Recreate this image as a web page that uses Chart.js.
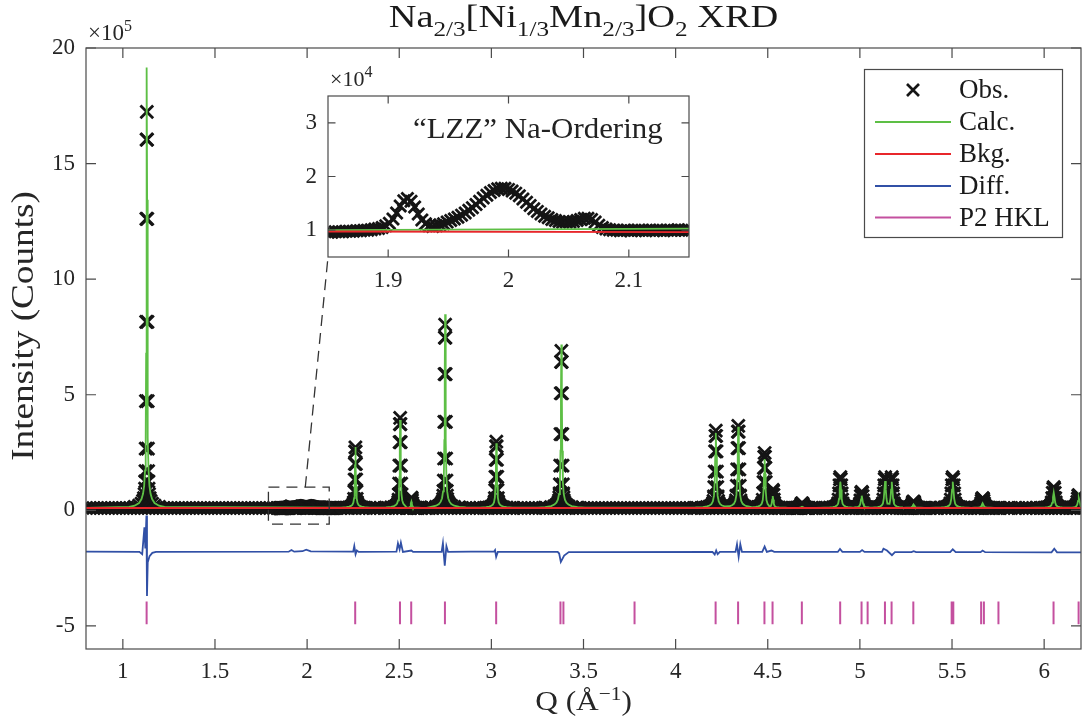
<!DOCTYPE html>
<html><head><meta charset="utf-8">
<script src="https://cdn.jsdelivr.net/npm/chart.js@4.4.1/dist/chart.umd.min.js"></script>
<style>
html,body{margin:0;padding:0;background:#fff;}
#wrap{position:relative;width:1083px;height:726px;overflow:hidden;}
#main{position:absolute;left:0;top:0;}
#inset{position:absolute;left:270px;top:60px;}
</style></head><body>
<div id="wrap"><canvas id="main" width="1083" height="726"></canvas><canvas id="inset" width="430" height="240"></canvas></div>
<script>
// ---------------- data (main plot in units of 1e5 counts) ----------------
const xTicks = [1, 1.5, 2, 2.5, 3, 3.5, 4, 4.5, 5, 5.5, 6];
const yTicks = [-5, 0, 5, 10, 15, 20];

const obsBaseLevel = 0.10;     // observed background level
const obsBandStep = 0.02;      // Q sampling used for the flat parts of the pattern
const calcBaseLevel = 0.105;
const bkgQ = [0.8, 6.2];
const bkgY = [0.097, 0.095];

// reflections: position, calculated height, observed height (above background), sample step
const peakQ    = [1.130, 2.262, 2.505, 2.566, 2.749, 3.027, 3.380, 4.218, 4.340, 4.483, 4.527, 4.686, 4.894, 5.010, 5.137, 5.173, 5.291, 5.504, 5.666, 6.052, 6.188];
const peakCalc = [19.05, 2.63, 3.80, 0.27, 8.38, 2.80, 7.07, 3.24, 3.51, 2.11, 0.51, 0.05, 1.13, 0.53, 1.16, 1.13, 0.15, 1.13, 0.20, 0.66, 0.43];
const peakObs  = [17.14, 2.62, 3.90, 0.45, 7.93, 2.87, 6.80, 3.35, 3.55, 2.38, 0.78, 0.20, 1.34, 0.70, 1.34, 1.34, 0.28, 1.34, 0.43, 0.90, 0.56];
const peakStep = [0.0012, 0.0014, 0.0014, 0.0015, 0.0014, 0.0016, 0.0016, 0.0020, 0.0020, 0.0020, 0.0020, 0.0022, 0.0024, 0.0024, 0.0024, 0.0024, 0.0024, 0.0026, 0.0026, 0.0027, 0.0027];

const obsShapeK   = [-55, -35, -24, -17, -13, -10, -8, -7, -6, -5, -4, -3, -2, -1, 0, 1, 2, 3, 4, 5, 6, 7, 8, 10, 13, 17, 24, 35, 55];
const obsShapeRel = [0.003, 0.006, 0.011, 0.018, 0.025, 0.035, 0.049, 0.067, 0.093, 0.15, 0.27, 0.47, 0.73, 0.93, 1, 0.93, 0.73, 0.47, 0.27, 0.15, 0.093, 0.067, 0.049, 0.035, 0.025, 0.018, 0.011, 0.006, 0.003];
const calcShapeK   = [-80, -55, -35, -24, -17, -12, -8, -5, -3, -1.5, 0, 1.5, 3, 5, 8, 12, 17, 24, 35, 55, 80];
const calcShapeRel = [0.002, 0.005, 0.011, 0.02, 0.032, 0.05, 0.085, 0.16, 0.35, 0.7, 1, 0.7, 0.35, 0.16, 0.085, 0.05, 0.032, 0.02, 0.011, 0.005, 0.002];

// difference curve (offset)
const diffQ = [0.80, 1.09, 1.105, 1.117, 1.122, 1.128, 1.131, 1.135, 1.145, 1.16, 1.18, 1.90, 1.915, 1.93, 1.975, 1.995, 2.02, 2.25, 2.256, 2.263, 2.27, 2.28, 2.485, 2.493, 2.502, 2.509, 2.52, 2.566, 2.575, 2.73, 2.737, 2.747, 2.756, 2.765, 3.015, 3.02, 3.026, 3.035, 3.36, 3.368, 3.377, 3.395, 3.42, 4.20, 4.212, 4.22, 4.228, 4.24, 4.325, 4.333, 4.342, 4.351, 4.36, 4.47, 4.483, 4.495, 4.52, 4.535, 4.88, 4.892, 4.905, 5.0, 5.012, 5.025, 5.12, 5.128, 5.147, 5.174, 5.19, 5.28, 5.292, 5.305, 5.49, 5.504, 5.52, 5.655, 5.666, 5.68, 6.04, 6.055, 6.07, 6.2];
const diffY = [-1.79, -1.80, -1.90, -0.74, -1.65, -0.23, -3.71, -2.25, -1.98, -1.84, -1.80, -1.79, -1.72, -1.79, -1.77, -1.70, -1.78, -1.79, -1.55, -1.90, -1.74, -1.80, -1.79, -1.43, -1.69, -1.40, -1.80, -1.74, -1.80, -1.80, -1.43, -2.39, -1.55, -1.80, -1.78, -1.72, -2.01, -1.80, -1.80, -1.87, -2.23, -1.96, -1.81, -1.80, -1.91, -1.74, -1.90, -1.80, -1.80, -1.47, -2.01, -1.47, -1.80, -1.80, -1.57, -1.80, -1.74, -1.80, -1.80, -1.67, -1.80, -1.80, -1.72, -1.80, -1.80, -1.66, -1.74, -1.94, -1.81, -1.81, -1.77, -1.81, -1.81, -1.69, -1.81, -1.81, -1.74, -1.81, -1.82, -1.66, -1.82, -1.82];

// P2 reflection markers
const hklQ = [1.129, 2.261, 2.504, 2.565, 2.748, 3.026, 3.375, 3.391, 3.777, 4.217, 4.339, 4.482, 4.526, 4.685, 4.893, 5.009, 5.042, 5.136, 5.172, 5.290, 5.498, 5.507, 5.658, 5.673, 5.752, 6.051, 6.187];
const hklY = [-3.95, -4.93];

// zoom box on the main plot
const zoomBoxQ = [1.79, 2.12];
const zoomBoxY = [-0.6, 1.0];
const zoomLinkQ = 1.99;

// ---------------- inset data (units of 1e4 counts) ----------------
const insetXTicks = [1.9, 2, 2.1];
const insetYTicks = [1, 2, 3];
const insetQ0 = 1.85, insetStep = 0.003;
const insetObs = [0.96, 0.96, 0.97, 0.97, 0.97, 0.98, 0.98, 0.98, 0.99, 0.99, 1.00, 1.00, 1.01, 1.02, 1.03,
  1.05, 1.08, 1.13, 1.21, 1.32, 1.45, 1.55, 1.59, 1.54, 1.43, 1.30, 1.19, 1.12, 1.08, 1.07,
  1.08, 1.10, 1.12, 1.15, 1.18, 1.21, 1.24, 1.28, 1.32, 1.37, 1.42, 1.48, 1.54, 1.60, 1.65,
  1.70, 1.74, 1.77, 1.78, 1.78, 1.76, 1.73, 1.69, 1.64, 1.58, 1.52, 1.46, 1.40, 1.35, 1.30,
  1.26, 1.23, 1.20, 1.18, 1.16, 1.15, 1.15, 1.15, 1.16, 1.18, 1.20, 1.22, 1.22, 1.20, 1.15,
  1.09, 1.05, 1.02, 1.01, 1.00, 1.00, 0.99, 1.00, 1.00, 0.99, 1.00, 1.00, 1.00, 0.99, 1.00,
  1.00, 1.00, 1.00, 0.99, 1.00, 1.00, 1.00, 1.01, 1.00, 1.00, 1.00];
const insetCalcQ = [1.85, 2.15], insetCalcY = [1.00, 1.03];
const insetBkgQ = [1.85, 2.15], insetBkgY = [0.975, 0.965];

// ---------------- styles ----------------
const SERIF = '"Liberation Serif", "Times New Roman", serif';
const TXT = '#262626';
const AX = '#4a4a4a';
const COL = {obs: '#151515', calc: '#5dbf45', bkg: '#e8262b', diff: '#3150a6', hkl: '#c4509f'};
const INSET_LEFT = 270, INSET_TOP = 60;

// ---------------- build series ----------------
const qMin = 0.8, qMax = 6.2;
function cellOf(i) {
  const lo = i > 0 ? (peakQ[i - 1] + peakQ[i]) / 2 : qMin;
  const hi = i < peakQ.length - 1 ? (peakQ[i] + peakQ[i + 1]) / 2 : qMax;
  return [lo, hi];
}
const obsPts = [];
const nBand = Math.round((qMax - qMin) / obsBandStep);
for (let i = 0; i <= nBand; i++) obsPts.push({x: qMin + i * obsBandStep, y: obsBaseLevel});
peakQ.forEach((q, i) => {
  const [lo, hi] = cellOf(i);
  obsShapeK.forEach((k, j) => {
    const qq = q + k * peakStep[i];
    if (qq > lo && qq < hi) obsPts.push({x: qq, y: obsBaseLevel + peakObs[i] * obsShapeRel[j]});
  });
});
insetObs.forEach((v, i) => obsPts.push({x: insetQ0 + i * insetStep, y: v / 10}));

const calcPts = [{x: qMin, y: calcBaseLevel}];
peakQ.forEach((q, i) => {
  const [lo, hi] = cellOf(i);
  calcShapeK.forEach((k, j) => {
    const qq = q + k * peakStep[i];
    if (qq > lo && qq < hi) calcPts.push({x: qq, y: calcBaseLevel + peakCalc[i] * calcShapeRel[j]});
  });
});
calcPts.push({x: qMax, y: calcBaseLevel});

const bkgPts = bkgQ.map((q, i) => ({x: q, y: bkgY[i]}));
const diffPts = diffQ.map((q, i) => ({x: q, y: diffY[i]}));
const hklPts = [];
hklQ.forEach(q => { hklPts.push({x: q, y: hklY[0]}, {x: q, y: hklY[1]}, {x: q, y: null}); });

// ---------------- helpers ----------------
function drawRich(ctx, parts, x, y, sx, align) {
  let total = 0;
  parts.forEach(p => { ctx.font = p[1] + 'px ' + SERIF; p.w = ctx.measureText(p[0]).width; total += p.w; });
  ctx.save();
  ctx.translate(x, y); ctx.scale(sx, 1);
  let xx = align === 'left' ? 0 : -total / 2;
  ctx.textAlign = 'left'; ctx.textBaseline = 'alphabetic';
  parts.forEach(p => { ctx.font = p[1] + 'px ' + SERIF; ctx.fillText(p[0], xx, p[2]); xx += p.w; });
  ctx.restore();
}
function drawCross(ctx, x, y, h, lw, color) {
  ctx.save(); ctx.strokeStyle = color; ctx.lineWidth = lw;
  ctx.beginPath(); ctx.moveTo(x - h, y - h); ctx.lineTo(x + h, y + h); ctx.moveTo(x - h, y + h); ctx.lineTo(x + h, y - h); ctx.stroke();
  ctx.restore();
}
function boxAndTicks(ctx, a, xs, ys, xt, yt, len) {
  ctx.save();
  ctx.strokeStyle = AX; ctx.lineWidth = 1.2;
  ctx.strokeRect(a.left, a.top, a.right - a.left, a.bottom - a.top);
  ctx.beginPath();
  xt.forEach(v => { const p = xs.getPixelForValue(v); ctx.moveTo(p, a.bottom); ctx.lineTo(p, a.bottom - len); ctx.moveTo(p, a.top); ctx.lineTo(p, a.top + len); });
  yt.forEach(v => { const p = ys.getPixelForValue(v); ctx.moveTo(a.left, p); ctx.lineTo(a.left + len, p); ctx.moveTo(a.right, p); ctx.lineTo(a.right - len, p); });
  ctx.stroke();
  ctx.restore();
}
const noPadX = h => s => { s.height = h; s.paddingLeft = 0; s.paddingRight = 0; };
const noPadY = w => s => { s.width = w; s.paddingTop = 0; s.paddingBottom = 0; };

// ---------------- inset chart ----------------
const insetDecor = {
  id: 'insetDecor',
  beforeDatasetsDraw(chart) {
    const {ctx, chartArea: a} = chart;
    ctx.save(); ctx.fillStyle = '#fff'; ctx.fillRect(a.left, a.top, a.right - a.left, a.bottom - a.top); ctx.restore();
  },
  afterDraw(chart) {
    const {ctx, chartArea: a, scales: {x, y}} = chart;
    boxAndTicks(ctx, a, x, y, insetXTicks, insetYTicks, 7.5);
    ctx.save();
    ctx.fillStyle = TXT;
    drawRich(ctx, [['\u00d710', 22, 0], ['4', 16, -9]], a.left + 2, a.top - 10, 1, 'left');
    ctx.fillStyle = '#222';
    drawRich(ctx, [['\u201cLZZ\u201d Na-Ordering', 30, 0]], a.left + 85, a.top + 42, 1.03, 'left');
    ctx.restore();
  }
};
const insetChart = new Chart(document.getElementById('inset'), {
  type: 'scatter',
  data: {datasets: [
    {label: 'Obs.', data: insetObs.map((v, i) => ({x: insetQ0 + i * insetStep, y: v})), pointStyle: 'crossRot', pointRadius: 8.5, pointBorderWidth: 2.8, borderColor: COL.obs, backgroundColor: COL.obs, order: 3},
    {type: 'line', label: 'Calc.', data: insetCalcQ.map((q, i) => ({x: q, y: insetCalcY[i]})), borderColor: COL.calc, borderWidth: 1.8, pointRadius: 0, order: 2},
    {type: 'line', label: 'Bkg.', data: insetBkgQ.map((q, i) => ({x: q, y: insetBkgY[i]})), borderColor: COL.bkg, borderWidth: 1.8, pointRadius: 0, order: 1}
  ]},
  options: {
    responsive: false, animation: false, devicePixelRatio: 1, events: [],
    layout: {autoPadding: false, padding: {top: 36, right: 11, left: 0, bottom: 0}},
    plugins: {legend: {display: false}, tooltip: {enabled: false}, title: {display: false}},
    scales: {
      x: {type: 'linear', min: 1.85, max: 2.15,
        afterBuildTicks: s => { s.ticks = insetXTicks.map(v => ({value: v})); },
        afterFit: noPadX(43),
        grid: {display: false, drawTicks: false}, border: {display: false},
        ticks: {font: {family: SERIF, size: 23}, color: TXT, padding: 10, maxRotation: 0, autoSkip: false, callback: v => String(v)}},
      y: {type: 'linear', min: 0.5, max: 3.5,
        afterBuildTicks: s => { s.ticks = insetYTicks.map(v => ({value: v})); },
        afterFit: noPadY(58),
        grid: {display: false, drawTicks: false}, border: {display: false},
        ticks: {font: {family: SERIF, size: 23}, color: TXT, padding: 11, autoSkip: false, callback: v => String(v)}}
    }
  },
  plugins: [insetDecor]
});

// ---------------- main chart ----------------
const mainDecor = {
  id: 'mainDecor',
  afterDraw(chart) {
    const {ctx, chartArea: a, scales: {x, y}} = chart;
    boxAndTicks(ctx, a, x, y, xTicks, yTicks, 10);
    ctx.save();
    // zoom box + connector
    ctx.strokeStyle = '#333'; ctx.lineWidth = 1.3; ctx.setLineDash([11, 7]);
    const x0 = x.getPixelForValue(zoomBoxQ[0]), x1 = x.getPixelForValue(zoomBoxQ[1]);
    const y0 = y.getPixelForValue(zoomBoxY[1]), y1 = y.getPixelForValue(zoomBoxY[0]);
    ctx.strokeRect(x0, y0, x1 - x0, y1 - y0);
    const ia = insetChart.chartArea;
    ctx.beginPath();
    ctx.moveTo(x.getPixelForValue(zoomLinkQ), y0);
    ctx.lineTo(INSET_LEFT + ia.left, INSET_TOP + ia.bottom);
    ctx.stroke();
    ctx.setLineDash([]);
    // exponent label
    ctx.fillStyle = TXT;
    drawRich(ctx, [['\u00d710', 23, 0], ['5', 16, -9]], a.left + 2, a.top - 8, 1, 'left');
    // title
    ctx.fillStyle = '#1a1a1a';
    drawRich(ctx, [['Na', 32, 0], ['2/3', 21, 9], ['[Ni', 32, 0], ['1/3', 21, 9], ['Mn', 32, 0], ['2/3', 21, 9], [']O', 32, 0], ['2', 21, 9], [' XRD', 32, 0]],
      (a.left + a.right) / 2, 27, 1.2, 'center');
    // x label
    ctx.fillStyle = TXT;
    drawRich(ctx, [['Q (\u00c5', 28, 0], ['\u22121', 19, -10], [')', 28, 0]], (a.left + a.right) / 2, 710, 1.12, 'center');
    // y label
    ctx.save();
    ctx.translate(33, 326); ctx.rotate(-Math.PI / 2); ctx.scale(1.2, 1);
    ctx.font = '31px ' + SERIF; ctx.textAlign = 'center'; ctx.textBaseline = 'alphabetic';
    ctx.fillText('Intensity (Counts)', 0, 0);
    ctx.restore();
    // legend
    const L = {x: 864, y: 69, w: 198, h: 168};
    ctx.fillStyle = '#fff'; ctx.fillRect(L.x, L.y, L.w, L.h);
    ctx.strokeStyle = AX; ctx.lineWidth = 1.2; ctx.strokeRect(L.x + 0.5, L.y + 0.5, L.w, L.h);
    const rows = [90, 122, 154, 186, 217.5];
    const ds = chart.data.datasets;
    drawCross(ctx, 913, rows[0], 6, 2.7, COL.obs);
    for (let i = 1; i < 5; i++) {
      ctx.strokeStyle = ds[i].borderColor; ctx.lineWidth = 1.8;
      ctx.beginPath(); ctx.moveTo(875, rows[i]); ctx.lineTo(951, rows[i]); ctx.stroke();
    }
    ctx.fillStyle = '#1a1a1a'; ctx.font = '27px ' + SERIF; ctx.textAlign = 'left'; ctx.textBaseline = 'middle';
    ds.forEach((d, i) => ctx.fillText(d.label, 959, rows[i] + 1));
    ctx.restore();
  }
};

new Chart(document.getElementById('main'), {
  type: 'scatter',
  data: {datasets: [
    {label: 'Obs.', data: obsPts, pointStyle: 'crossRot', pointRadius: 9, pointBorderWidth: 2.8, borderColor: COL.obs, backgroundColor: COL.obs, order: 5},
    {type: 'line', label: 'Calc.', data: calcPts, borderColor: COL.calc, borderWidth: 1.8, pointRadius: 0, tension: 0, order: 4},
    {type: 'line', label: 'Bkg.', data: bkgPts, borderColor: COL.bkg, borderWidth: 2, pointRadius: 0, order: 3},
    {type: 'line', label: 'Diff.', data: diffPts, borderColor: COL.diff, borderWidth: 1.8, pointRadius: 0, order: 2},
    {type: 'line', label: 'P2 HKL', data: hklPts, borderColor: COL.hkl, borderWidth: 2, pointRadius: 0, spanGaps: false, order: 1}
  ]},
  options: {
    responsive: false, animation: false, devicePixelRatio: 1, events: [],
    layout: {autoPadding: false, padding: {top: 48, right: 2, left: 0, bottom: 0}},
    plugins: {legend: {display: false}, tooltip: {enabled: false}, title: {display: false}},
    scales: {
      x: {type: 'linear', min: qMin, max: qMax,
        afterBuildTicks: s => { s.ticks = xTicks.map(v => ({value: v})); },
        afterFit: noPadX(77),
        grid: {display: false, drawTicks: false}, border: {display: false},
        ticks: {font: {family: SERIF, size: 23}, color: TXT, padding: 9, maxRotation: 0, autoSkip: false, callback: v => String(v)}},
      y: {type: 'linear', min: -6, max: 20,
        afterBuildTicks: s => { s.ticks = yTicks.map(v => ({value: v})); },
        afterFit: noPadY(86),
        grid: {display: false, drawTicks: false}, border: {display: false},
        ticks: {font: {family: SERIF, size: 23}, color: TXT, padding: 11, autoSkip: false, callback: v => String(v)}}
    }
  },
  plugins: [mainDecor]
});
</script>
</body></html>
